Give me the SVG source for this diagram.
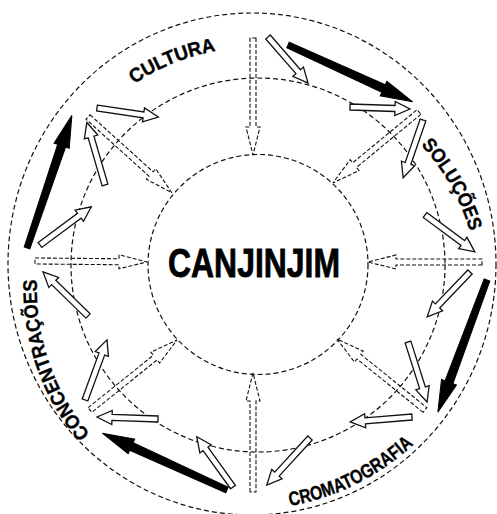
<svg xmlns="http://www.w3.org/2000/svg" width="497" height="514" viewBox="0 0 497 514">
<style>
.ring{fill:none;stroke:#111;stroke-width:1.2;stroke-dasharray:5 3}
.dash{fill:none;stroke:#111;stroke-width:1.1;stroke-dasharray:4 2}
.hollow{fill:#fff;stroke:#111;stroke-width:1.3;stroke-linejoin:miter}
.solid{fill:#000;stroke:#000;stroke-width:1}
.lbl{font-family:"Liberation Sans",Arial,sans-serif;font-weight:bold;font-size:19.5px;fill:#000;stroke:#000;stroke-width:0.35}
.title{font-family:"Liberation Sans",Arial,sans-serif;font-weight:bold;font-size:40px;fill:#000;stroke:#000;stroke-width:0.8}
</style>
<defs>
<path id="pCultura" d="M134,84 A217,217 0 0 1 216,51"/>
<path id="pSolucoes" d="M421,145 A220,220 0 0 1 470,232"/>
<path id="pCroma" d="M290,506 A242,242 0 0 0 414,444"/>
<path id="pConc" d="M90,434 A225,225 0 0 1 37,279"/>
</defs>
<rect width="497" height="514" fill="#fff"/>
<g id="rings">
<ellipse class="ring" cx="252" cy="264" rx="244" ry="251"/>
<circle class="ring" cx="258" cy="265" r="187"/>
</g>
<g id="connectors">
<path class="dash" transform="translate(253,38) rotate(90)" d="M0,-3H89V-7L117,0L89,7V3H0Z"/>
<path class="dash" transform="translate(419,112) rotate(140.5)" d="M0,-3H83.5V-7L111.5,0L83.5,7V3H0Z"/>
<path class="dash" transform="translate(482,262) rotate(180)" d="M0,-3H86V-7L114,0L86,7V3H0Z"/>
<path class="dash" transform="translate(425,410) rotate(-141.1)" d="M0,-3H85V-7L113,0L85,7V3H0Z"/>
<path class="dash" transform="translate(253,492) rotate(-90)" d="M0,-3H91V-7L119,0L91,7V3H0Z"/>
<path class="dash" transform="translate(90,410) rotate(-38.8)" d="M0,-3H83.7V-7L111.7,0L83.7,7V3H0Z"/>
<path class="dash" transform="translate(35,261) rotate(0.5)" d="M0,-3H84V-7L112,0L84,7V3H0Z"/>
<path class="dash" transform="translate(88,117) rotate(42.1)" d="M0,-3H85V-7L113,0L85,7V3H0Z"/>
<path class="hollow" transform="translate(97,108) rotate(8.4)" d="M0,-3H47V-7L62,0L47,7V3H0Z"/>
<path class="hollow" transform="translate(105,185) rotate(-106.2)" d="M0,-3H50V-7L65,0L50,7V3H0Z"/>
<path class="hollow" transform="translate(40,245) rotate(-36.7)" d="M0,-3H49V-7L64,0L49,7V3H0Z"/>
<path class="hollow" transform="translate(268,37) rotate(49)" d="M0,-3H46V-7L61,0L46,7V3H0Z"/>
<path class="hollow" transform="translate(350,107) rotate(1.9)" d="M0,-3H45V-7L60,0L45,7V3H0Z"/>
<path class="hollow" transform="translate(423,120) rotate(109)" d="M0,-3H46V-7L61,0L46,7V3H0Z"/>
<path class="hollow" transform="translate(425,215) rotate(36.5)" d="M0,-3H47V-7L62,0L47,7V3H0Z"/>
<path class="hollow" transform="translate(470,272) rotate(133.7)" d="M0,-3H47V-7L62,0L47,7V3H0Z"/>
<path class="hollow" transform="translate(408,342) rotate(72.4)" d="M0,-3H48V-7L63,0L48,7V3H0Z"/>
<path class="hollow" transform="translate(412,417) rotate(175.4)" d="M0,-3H47V-7L62,0L47,7V3H0Z"/>
<path class="hollow" transform="translate(310,438) rotate(132.5)" d="M0,-3H49V-7L64,0L49,7V3H0Z"/>
<path class="hollow" transform="translate(233,487) rotate(-125.8)" d="M0,-3H47V-7L62,0L47,7V3H0Z"/>
<path class="hollow" transform="translate(158,419) rotate(-178.1)" d="M0,-3H46V-7L61,0L46,7V3H0Z"/>
<path class="hollow" transform="translate(85,400) rotate(-69.9)" d="M0,-3H49V-7L64,0L49,7V3H0Z"/>
<path class="hollow" transform="translate(88,316) rotate(-135.6)" d="M0,-3H48V-7L63,0L48,7V3H0Z"/>
<path class="solid" transform="translate(288,45) rotate(24.5)" d="M0,-3L105,-4.2V-8L137,0L105,8V4.2L0,3Z"/>
<path class="solid" transform="translate(487,280) rotate(110.4)" d="M0,-3L109,-4.2V-8L141,0L109,8V4.2L0,3Z"/>
<path class="solid" transform="translate(227,490) rotate(-155.5)" d="M0,-3L105,-4.2V-8L137,0L105,8V4.2L0,3Z"/>
<path class="solid" transform="translate(27,248) rotate(-71.3)" d="M0,-3L108,-4.2V-8L140,0L108,8V4.2L0,3Z"/>
</g>
<g id="center">
<circle cx="258" cy="264.5" r="110" fill="#fff" class="ring"/>
<text class="title" x="254" y="277" text-anchor="middle" textLength="172" lengthAdjust="spacingAndGlyphs">CANJINJIM</text>
</g>
<g id="cultura"><text class="lbl"><textPath href="#pCultura" textLength="89" lengthAdjust="spacingAndGlyphs">CULTURA</textPath></text></g>
<g id="solucoes"><text class="lbl"><textPath href="#pSolucoes" textLength="100" lengthAdjust="spacingAndGlyphs">SOLUÇÕES</textPath></text></g>
<g id="cromatografia"><text class="lbl"><textPath href="#pCroma" textLength="140" lengthAdjust="spacingAndGlyphs">CROMATOGRAFIA</textPath></text></g>
<g id="concentracoes"><text class="lbl"><textPath href="#pConc" textLength="167" lengthAdjust="spacingAndGlyphs">CONCENTRAÇÕES</textPath></text></g>
</svg>
